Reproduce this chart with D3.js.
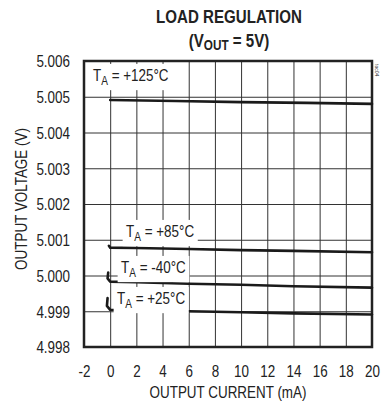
<!DOCTYPE html>
<html>
<head>
<meta charset="utf-8">
<script src="https://cdn.jsdelivr.net/npm/d3@7"></script>
<style>
  html, body { margin: 0; padding: 0; background: #fff; }
  svg { display: block; }
  text { font-family: "Liberation Sans", Arial, Helvetica, sans-serif; fill: #222; }
</style>
</head>
<body>
<svg id="chart" width="381" height="402"></svg>
<script>
// Output current (mA) and output voltage (V) for each ambient temperature
const current125 = [0, 5, 10, 15, 20];
const volt125    = [5.00491, 5.00488, 5.00485, 5.00483, 5.00480];

const current85  = [-0.1, 0, 2, 6, 10, 14, 20];
const volt85     = [5.00083, 5.00078, 5.00077, 5.00074, 5.00071, 5.00069, 5.00065];

const currentM40 = [-0.15, -0.2, 0, 2, 6, 10, 14, 20];
const voltM40    = [5.00008, 4.99992, 4.99983, 4.99981, 4.99977, 4.99974, 4.99970, 4.99966];

const current25  = [-0.2, -0.25, 0, 2, 6, 10, 14, 20];
const volt25     = [4.99937, 4.99915, 4.99904, 4.99903, 4.99900, 4.99897, 4.99894, 4.99891];

const seriesNames = ["+125°C", "+85°C", "-40°C", "+25°C"];

const xTicks = [-2, 0, 2, 4, 6, 8, 10, 12, 14, 16, 18, 20];
const yTicks = [4.998, 4.999, 5.000, 5.001, 5.002, 5.003, 5.004, 5.005, 5.006];

const titleLines = ["LOAD REGULATION"];
const xTitle = "OUTPUT CURRENT (mA)";
const yTitle = "OUTPUT VOLTAGE (V)";

const svg = d3.select("#chart");
const SX = 0.84;            // narrow typeface look
const plotL = 84, plotR = 372, plotT = 61, plotB = 347;

const x = d3.scaleLinear().domain([-2, 20]).range([plotL, plotR]);
const y = d3.scaleLinear().domain([4.998, 5.006]).range([plotB, plotT]);

// grid + tick labels
const xAxis = svg.append("g")
  .attr("transform", `translate(0,${plotB})`)
  .call(d3.axisBottom(x).tickValues(xTicks).tickSize(-(plotB - plotT)).tickPadding(0));
xAxis.select(".domain").remove();
xAxis.selectAll(".tick line").attr("stroke", "#333").attr("stroke-width", 1);
xAxis.selectAll(".tick text")
  .attr("y", 30).attr("dy", 0)
  .attr("font-size", 16)
  .attr("fill", "#222")
  .attr("transform", `scale(${SX},1)`)
  .text(d => String(d));

const yAxis = svg.append("g")
  .attr("transform", `translate(${plotL},0)`)
  .call(d3.axisLeft(y).tickValues(yTicks).tickSize(-(plotR - plotL)).tickPadding(0));
yAxis.select(".domain").remove();
yAxis.selectAll(".tick line").attr("stroke", "#333").attr("stroke-width", 1);
yAxis.selectAll(".tick text")
  .attr("x", -14 / SX).attr("dy", "0.36em")
  .attr("font-size", 16)
  .attr("fill", "#222")
  .attr("text-anchor", "end")
  .attr("transform", `scale(${SX},1)`)
  .text(d => d.toFixed(3));

// frame
svg.append("rect")
  .attr("x", plotL).attr("y", plotT)
  .attr("width", plotR - plotL).attr("height", plotB - plotT)
  .attr("fill", "none").attr("stroke", "#222").attr("stroke-width", 2.5);

// curves
const line = d3.line().x(d => x(d[0])).y(d => y(d[1]));
const series = [
  d3.zip(current125, volt125),
  d3.zip(current85, volt85),
  d3.zip(currentM40, voltM40),
  d3.zip(current25, volt25)
];
svg.append("g").selectAll("path").data(series).join("path")
  .attr("d", line)
  .attr("fill", "none")
  .attr("stroke", "#1a1a1a")
  .attr("stroke-width", 2.6)
  .attr("stroke-linejoin", "round")
  .attr("stroke-linecap", "round");

// temperature labels with white knock-out boxes
function tempLabel(px, py, name) {
  const g = svg.append("g").attr("transform", `translate(${px},${py}) scale(${SX},1)`);
  const bg = g.append("rect").attr("fill", "#fff");
  const t = g.append("text").attr("font-size", 16).attr("x", 0).attr("y", 0);
  t.append("tspan").text("T");
  t.append("tspan").attr("font-size", 12).attr("dy", 4).text("A");
  t.append("tspan").attr("dy", -4).text(" = " + name);
  const b = t.node().getBBox();
  bg.attr("x", b.x - 4).attr("y", b.y - 3).attr("width", b.width + 8).attr("height", b.height + 6);
}
tempLabel(93, 81, seriesNames[0]);
tempLabel(126, 237, seriesNames[1]);
tempLabel(121, 273, seriesNames[2]);
tempLabel(117, 304, seriesNames[3]);

// title
svg.append("g").attr("transform", `translate(229,23) scale(${SX},1)`)
  .append("text").attr("text-anchor", "middle").attr("font-size", 18).attr("font-weight", "bold")
  .text(titleLines[0]);
const sub = svg.append("g").attr("transform", `translate(229,47) scale(${SX},1)`)
  .append("text").attr("text-anchor", "middle").attr("font-size", 18).attr("font-weight", "bold");
sub.append("tspan").text("(V");
sub.append("tspan").attr("font-size", 14).attr("dy", 3).text("OUT");
sub.append("tspan").attr("dy", -3).text(" = 5V)");

// axis titles
svg.append("g").attr("transform", `translate(228,398) scale(${SX},1)`)
  .append("text").attr("text-anchor", "middle").attr("font-size", 16).text(xTitle);
svg.append("g").attr("transform", `translate(27,199) rotate(-90) scale(${SX},1)`)
  .append("text").attr("text-anchor", "middle").attr("font-size", 16).text(yTitle);

// small figure code at the corner
svg.append("text")
  .attr("transform", "translate(375,64) rotate(90)")
  .attr("font-size", 5).attr("fill", "#777").text("toc04");
</script>
</body>
</html>
